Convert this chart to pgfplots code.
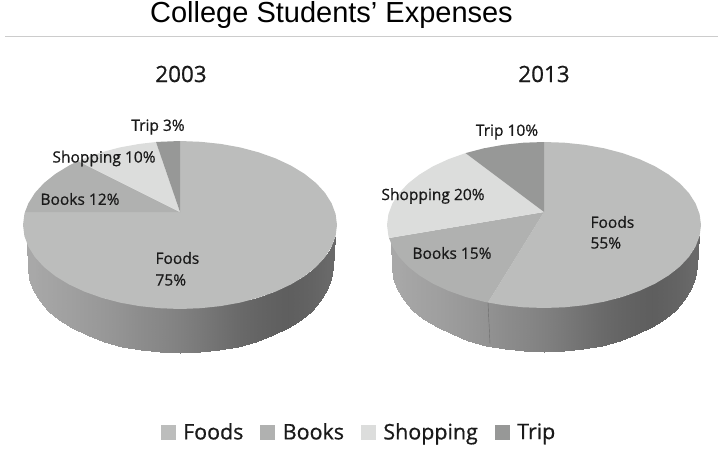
\documentclass[border=0pt]{standalone}
\usepackage{fontspec}
\setmainfont{Open Sans}[FakeBold=0.7]
\newfontfamily\titlefont{Liberation Sans}
\usepackage{pgfplots}
\usepackage{pgfplotstable}
\pgfplotsset{compat=1.18}

\definecolor{FoodsColor}{HTML}{BCBDBC}
\definecolor{BooksColor}{HTML}{B0B1B0}
\definecolor{ShoppingColor}{HTML}{DCDDDC}
\definecolor{TripColor}{HTML}{979897}
\definecolor{LabelColor}{HTML}{1A1A1A}

\tikzset{
  lab/.style={font=\fontsize{15.6}{18}\selectfont, text=LabelColor},
  year/.style={font=\fontsize{22.5}{26}\selectfont, text=LabelColor},
}

% side wall of the 3d pie, upper and lower edge, c = grey level
\pgfplotstableread{
x y c
27 243 .66
29.3 247.5 .66
33.2 253.7 .66
39.6 261.6 .65
48.4 269.8 .645
59.4 277.8 .635
72.5 285.2 .625
87.5 291.9 .61
104 297.5 .595
121.8 302 .575
140.7 305.3 .55
160.2 307.3 .53
180 308 .505
199.8 307.3 .475
219.3 305.3 .445
238.2 302 .415
256 297.5 .395
272.5 291.9 .38
287.5 285.2 .37
300.6 277.8 .38
311.6 269.8 .39
320.4 261.6 .40
326.8 253.7 .41
330.7 247.5 .41
335 237 .41
28 268 .66
29.3 279.1 .66
33.2 290 .66
39.6 300.5 .65
48.4 310.5 .645
59.4 319.7 .635
72.5 328.1 .625
87.5 335.4 .61
104 341.6 .595
121.8 346.5 .575
140.7 350.1 .55
160.2 352.3 .53
180 353 .505
199.8 352.3 .475
219.3 350.1 .445
238.2 346.5 .415
256 341.6 .395
272.5 335.4 .38
287.5 328.1 .37
300.6 319.7 .38
311.6 310.5 .39
320.4 300.5 .40
326.8 290 .41
330.7 279.1 .41
333 268 .41
}\sidewall

\begin{document}
\begin{tikzpicture}
  \useasboundingbox (0,0) rectangle (718bp,450bp);
  \begin{axis}[
    scale only axis,
    width=718bp,
    height=450bp,
    xmin=0, xmax=718,
    ymin=0, ymax=450,
    y dir=reverse,
    hide axis,
    clip=false,
    colormap/blackwhite,
    point meta min=0,
    point meta max=1,
    legend columns=4,
    legend cell align=left,
    legend style={
      at={(axis cs:359,432)},
      anchor=center,
      draw=none,
      fill=none,
      font=\fontsize{21.5}{24}\selectfont\color{LabelColor},
      /tikz/every odd column/.append style={column sep=6bp},
      /tikz/every even column/.append style={column sep=15bp},
    },
    legend image code/.code={
      \fill[#1] (0bp,-7bp) rectangle (14bp,7bp);
    },
  ]
    % 2003 side
    \addplot[surf, shader=interp, mesh/rows=2, mesh/cols=25, point meta=\thisrow{c}, forget plot]
      table {\sidewall};
    % 2013 side
    \addplot[surf, shader=interp, mesh/rows=2, mesh/cols=25, point meta=\thisrow{c}, forget plot]
      table[x expr=\thisrow{x}+364, y expr=\thisrow{y}-1] {\sidewall};
    \addplot[gray!85!black, line width=0.4pt, forget plot]
      coordinates {(488,302.5) (490,344)};

    % 2003 top
    \addplot[fill=FoodsColor, draw=none, forget plot] coordinates {
      (180,212) (180,141) (200.5,141.8) (220.6,143.9) (240.1,147.4) (258.5,152.3) (275.6,158.4) (291,165.6)
      (304.5,173.8) (316,183) (325,192.8) (331.6,203.3) (335.6,214) (337,225)
      (335.6,236) (331.6,246.7) (325,257.2) (316,267) (304.5,276.2) (291,284.4) (275.6,291.6) (258.5,297.7)
      (240.1,302.6) (220.6,306.1) (200.5,308.2) (180,309)
      (159.5,308.2) (139.4,306.1) (119.9,302.6) (101.5,297.7) (84.4,291.6) (69,284.4) (55.5,276.2) (44,267)
      (35,257.2) (28.4,246.7) (24.4,236) (23,225) (24.4,214) (25,212)
    };
    \addplot[fill=BooksColor, draw=none, forget plot] coordinates {
      (180,212) (25,212) (28.4,203.3) (35,192.8) (44,183) (55.5,173.8) (69,165.6) (78,161)
    };
    \addplot[fill=ShoppingColor, draw=none, forget plot] coordinates {
      (180,212) (78,161) (84.4,158.4) (101.5,152.3) (119.9,147.4) (139.4,143.9) (156,142)
    };
    \addplot[fill=TripColor, draw=none, forget plot] coordinates {
      (180,212) (156,142) (159.5,141.8) (180,141)
    };

    % 2013 top
    \addplot[fill=FoodsColor, draw=none, forget plot] coordinates {
      (544,212) (544,142) (564.5,142.7) (584.6,144.8) (604.1,148.3) (622.5,153.1) (639.6,159.2) (655,166.3)
      (668.5,174.5) (680,183.5) (689,193.2) (695.6,203.5) (699.6,214.2) (701,225)
      (699.6,235.8) (695.6,246.5) (689,256.8) (680,266.5) (668.5,275.5) (655,283.7) (639.6,290.8) (622.5,296.9)
      (604.1,301.7) (584.6,305.2) (564.5,307.3) (544,308) (523.5,307.3) (503.4,305.2) (488,302.5)
    };
    \addplot[fill=BooksColor, draw=none, forget plot] coordinates {
      (544,212) (488,302.5) (483.9,301.7) (465.5,296.9) (448.4,290.8) (433,283.7) (419.5,275.5) (408,266.5)
      (399,256.8) (392.4,246.5) (389,238)
    };
    \addplot[fill=ShoppingColor, draw=none, forget plot] coordinates {
      (544,212) (389,238) (388.4,235.8) (387,225) (388.4,214.2) (392.4,203.5) (399,193.2) (408,183.5)
      (419.5,174.5) (433,166.3) (448.4,159.2) (465.5,153.1)
    };
    \addplot[fill=TripColor, draw=none, forget plot] coordinates {
      (544,212) (465.5,153.1) (483.9,148.3) (503.4,144.8) (523.5,142.7) (544,142)
    };

    \addlegendimage{FoodsColor}
    \addlegendentry{Foods}
    \addlegendimage{BooksColor}
    \addlegendentry{Books}
    \addlegendimage{ShoppingColor}
    \addlegendentry{Shopping}
    \addlegendimage{TripColor}
    \addlegendentry{Trip}

    % title and rule
    \draw[color=black!20, line width=1bp] (axis cs:5,36.5) -- (axis cs:718,36.5);
    \node[anchor=base, font=\titlefont\fontsize{29.1}{32}\selectfont] at (axis cs:331.5,22) {College Students’ Expenses};

    \node[year] at (axis cs:181,74) {2003};
    \node[year] at (axis cs:544,74) {2013};

    \node[lab] at (axis cs:158,127) {Trip 3\%};
    \node[lab] at (axis cs:104,158.5) {Shopping 10\%};
    \node[lab] at (axis cs:80,199) {Books 12\%};
    \node[lab, anchor=west] at (axis cs:152,258) {Foods};
    \node[lab, anchor=west] at (axis cs:152,280) {75\%};

    \node[lab] at (axis cs:507,132) {Trip 10\%};
    \node[lab] at (axis cs:433,196) {Shopping 20\%};
    \node[lab] at (axis cs:452,253) {Books 15\%};
    \node[lab, anchor=west] at (axis cs:587,222) {Foods};
    \node[lab, anchor=west] at (axis cs:587,243) {55\%};
  \end{axis}
\end{tikzpicture}
\end{document}
